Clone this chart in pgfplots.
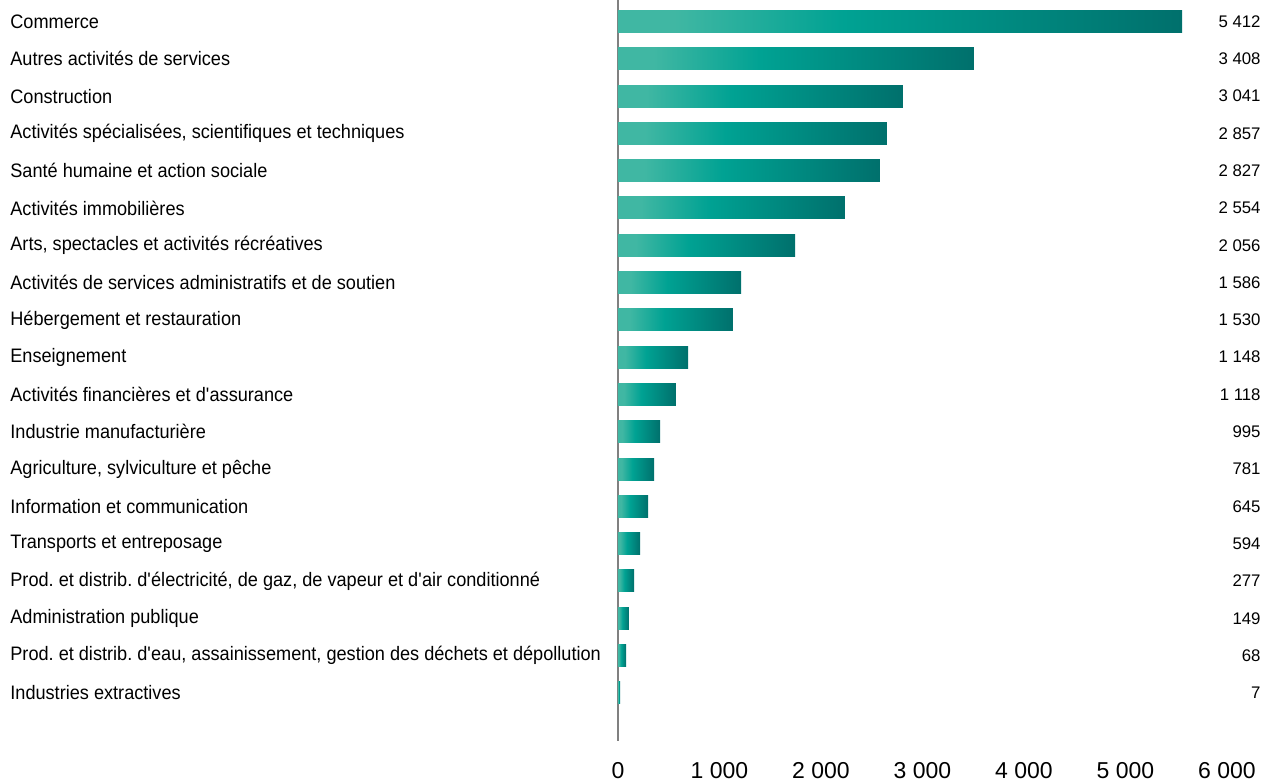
\documentclass[border=0pt]{standalone}
\usepackage{pgfplots}
\pgfplotsset{compat=1.18}
\usepackage{fontspec}
\setmainfont{Liberation Sans}[FakeStretch=0.93]
\newfontfamily\numfont{Liberation Sans}
\frenchspacing
% colours of the bar gradient (left, middle, right)
\pgfdeclarehorizontalshading{tealbar}{100bp}{
    rgb(0bp)=(0.251,0.718,0.639); rgb(30bp)=(0.251,0.718,0.639);
    rgb(45bp)=(0,0.635,0.576);
    rgb(75bp)=(0,0.439,0.424); rgb(100bp)=(0,0.439,0.424)}
\definecolor{axgray}{HTML}{808080}
\pgfplotsset{gbar/.style={xbar, bar width=0.59, bar shift=0pt, draw=none, shading=tealbar}}

\begin{document}
\begin{tikzpicture}
\begin{axis}[
    name=ax,
    scale only axis,
    width=304.5pt, height=370.4pt,
    xmin=0, xmax=6000,
    ymin=-1.29, ymax=18.57,
    axis x line=bottom,
    axis y line=left,
    axis line style={-},
    x axis line style={draw=none},
    y axis line style={draw=axgray, line width=0.75pt},
    xtick={0,1000,2000,3000,4000,5000,6000},
    xticklabels={0,1 000,2 000,3 000,4 000,5 000,6 000},
    ytick={0,...,18},
    yticklabels={Industries extractives,
        {Prod. et distrib. d\textquotesingle eau, assainissement, gestion des déchets et dépollution},
        Administration publique,
        {Prod. et distrib. d\textquotesingle électricité, de gaz, de vapeur et d\textquotesingle air conditionné},
        Transports et entreposage,
        Information et communication,
        {Agriculture, sylviculture et pêche},
        Industrie manufacturière,
        Activités financières et d\textquotesingle assurance,
        Enseignement,
        Hébergement et restauration,
        Activités de services administratifs et de soutien,
        {Arts, spectacles et activités récréatives},
        Activités immobilières,
        Santé humaine et action sociale,
        {Activités spécialisées, scientifiques et techniques},
        Construction,
        Autres activités de services,
        Commerce},
    major tick length=0pt,
    tick style={draw=none},
    xticklabel style={font=\numfont\fontsize{11.5}{13}\selectfont, inner sep=0pt, yshift=-10.3pt},
    yticklabel style={font=\fontsize{9.75}{11}\selectfont, anchor=west, inner sep=0pt, xshift=-304pt},
    clip=false,
]
% bar lengths as drawn, one plot per bar so each gets its own gradient
\addplot[gbar] coordinates {(20,0)};
\addplot[gbar] coordinates {(79,1)};
\addplot[gbar] coordinates {(108,2)};
\addplot[gbar] coordinates {(158,3)};
\addplot[gbar] coordinates {(217,4)};
\addplot[gbar] coordinates {(296,5)};
\addplot[gbar] coordinates {(355,6)};
\addplot[gbar] coordinates {(414,7)};
\addplot[gbar] coordinates {(571,8)};
\addplot[gbar] coordinates {(690,9)};
\addplot[gbar] coordinates {(1133,10)};
\addplot[gbar] coordinates {(1212,11)};
\addplot[gbar] coordinates {(1744,12)};
\addplot[gbar] coordinates {(2236,13)};
\addplot[gbar] coordinates {(2581,14)};
\addplot[gbar] coordinates {(2650,15)};
\addplot[gbar] coordinates {(2808,16)};
\addplot[gbar] coordinates {(3507,17)};
\addplot[gbar] coordinates {(5557,18)};
% printed values
\addplot[draw=none, mark=none, nodes near coords, point meta=explicit symbolic,
    nodes near coords style={anchor=east, inner sep=0pt, font=\numfont\fontsize{8.4}{10}\selectfont}]
coordinates {
    (6335,0) [7] (6335,1) [68] (6335,2) [149] (6335,3) [277] (6335,4) [594]
    (6335,5) [645] (6335,6) [781] (6335,7) [995] (6335,8) [1 118] (6335,9) [1 148]
    (6335,10) [1 530] (6335,11) [1 586] (6335,12) [2 056] (6335,13) [2 554]
    (6335,14) [2 827] (6335,15) [2 857] (6335,16) [3 041] (6335,17) [3 408] (6335,18) [5 412]
};
\end{axis}
\pgfresetboundingbox
\useasboundingbox ([shift={(-309pt,0.1pt)}]ax.north west) rectangle ++(632.5pt,-391pt);
\end{tikzpicture}
\end{document}
